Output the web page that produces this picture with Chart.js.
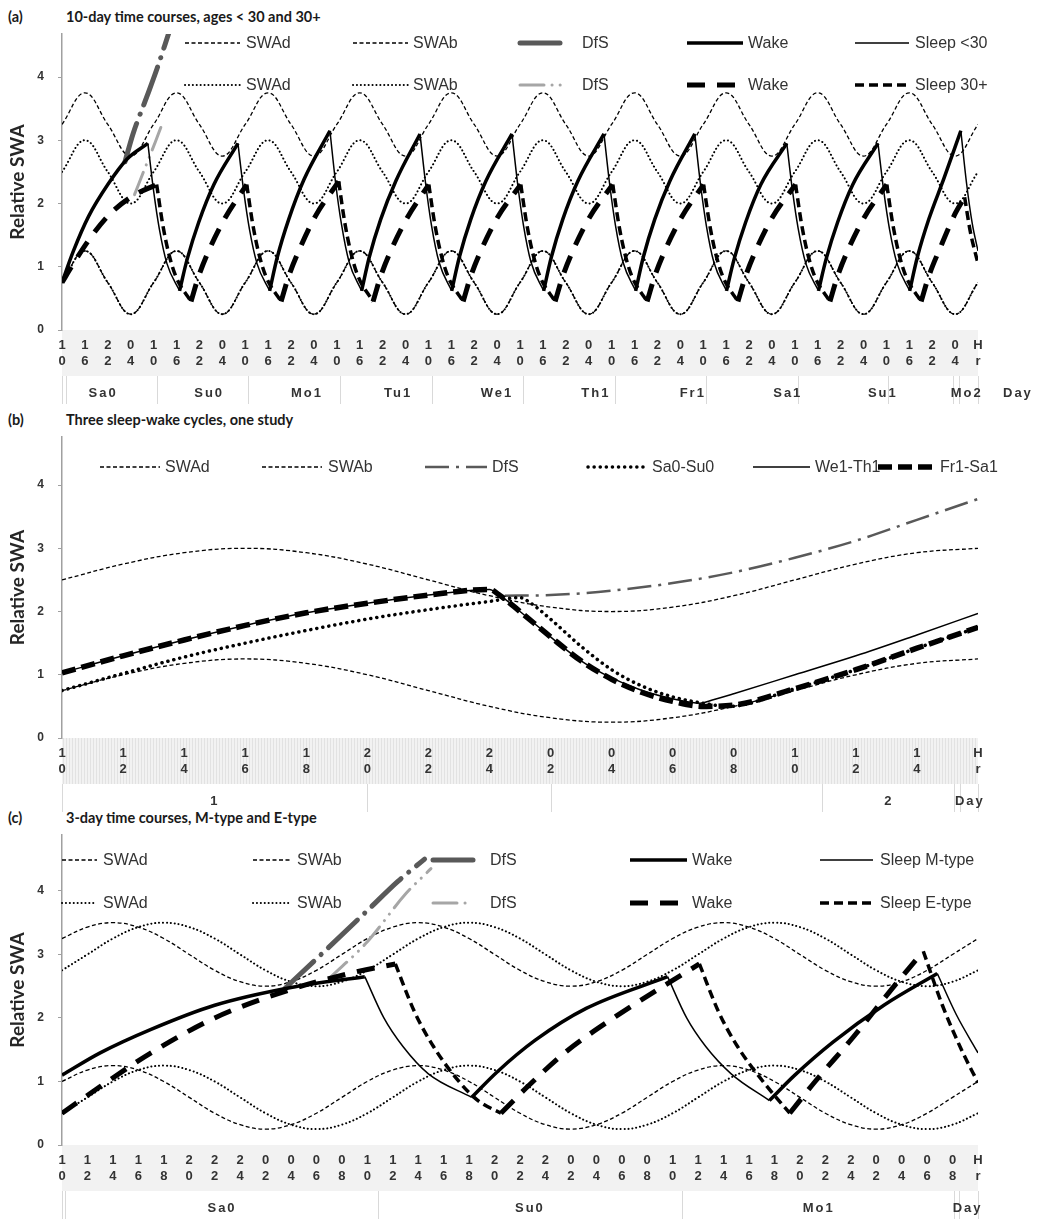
<!DOCTYPE html>
<html>
<head>
<meta charset="utf-8">
<script src="https://cdn.jsdelivr.net/npm/chart.js@4.4.1/dist/chart.umd.min.js"></script>
<style>
  body { margin: 0; background: #fff; width: 1046px; height: 1223px; position: relative; overflow: hidden; }
  canvas { position: absolute; left: 0; }
  .ttl { position: absolute; font-family: Lato, "Open Sans", sans-serif; font-weight: bold; font-size: 14.5px; color: #1a1a1a; white-space: nowrap; }
</style>
</head>
<body>
<div class="ttl" style="left:8px;top:8px">(a)</div>
<div class="ttl" style="left:66px;top:8px">10-day time courses, ages &lt; 30 and 30+</div>
<div class="ttl" style="left:8px;top:411px">(b)</div>
<div class="ttl" style="left:66px;top:411px">Three sleep-wake cycles, one study</div>
<div class="ttl" style="left:8px;top:809px">(c)</div>
<div class="ttl" style="left:66px;top:809px">3-day time courses, M-type and E-type</div>

<canvas id="chartA" width="1046" height="405" style="top:0px"></canvas>
<canvas id="chartB" width="1046" height="413" style="top:400px"></canvas>
<canvas id="chartC" width="1046" height="410" style="top:810px"></canvas>

<script>
// ---------- panel (a): 10 days, hours since Sa0 10:00 ----------
const aHours = [0,6,12,18,24,30,36,42,48,54,60,66,72,78,84,90,96,102,108,114,120,
  126,132,138,144,150,156,162,168,174,180,186,192,198,204,210,216,222,228,234,240];
const aHourLabels = ['10','16','22','04','10','16','22','04','10','16','22','04','10','16','22','04',
  '10','16','22','04','10','16','22','04','10','16','22','04','10','16','22','04',
  '10','16','22','04','10','16','22','04','Hr'];
const aDayNames = ['Sa0','Su0','Mo1','Tu1','We1','Th1','Fr1','Sa1','Su1','Mo2','Day'];
const aDayAt = [10.5, 38.3, 63.9, 87.8, 113.7, 139.6, 165.0, 189.9, 214.8, 236.8, 250.2];
const aDayLines = [0, 1, 24.9, 48.7, 72.8, 96.9, 120.8, 144.9, 168.7, 192.8, 216.4, 233.4, 235, 240];

const aSwaDYoung = [0.75,1.25,0.75,0.25, 0.75,1.25,0.75,0.25, 0.75,1.25,0.75,0.25, 0.75,1.25,0.75,0.25,
  0.75,1.25,0.75,0.25, 0.75,1.25,0.75,0.25, 0.75,1.25,0.75,0.25, 0.75,1.25,0.75,0.25,
  0.75,1.25,0.75,0.25, 0.75,1.25,0.75,0.25, 0.75];
const aSwaBYoung = [3.25,3.75,3.25,2.75, 3.25,3.75,3.25,2.75, 3.25,3.75,3.25,2.75, 3.25,3.75,3.25,2.75,
  3.25,3.75,3.25,2.75, 3.25,3.75,3.25,2.75, 3.25,3.75,3.25,2.75, 3.25,3.75,3.25,2.75,
  3.25,3.75,3.25,2.75, 3.25,3.75,3.25,2.75, 3.25];
const aSwaDOld = [0.75,1.25,0.75,0.25, 0.75,1.25,0.75,0.25, 0.75,1.25,0.75,0.25, 0.75,1.25,0.75,0.25,
  0.75,1.25,0.75,0.25, 0.75,1.25,0.75,0.25, 0.75,1.25,0.75,0.25, 0.75,1.25,0.75,0.25,
  0.75,1.25,0.75,0.25, 0.75,1.25,0.75,0.25, 0.75];
const aSwaBOld = [2.5,3.0,2.5,2.0, 2.5,3.0,2.5,2.0, 2.5,3.0,2.5,2.0, 2.5,3.0,2.5,2.0,
  2.5,3.0,2.5,2.0, 2.5,3.0,2.5,2.0, 2.5,3.0,2.5,2.0, 2.5,3.0,2.5,2.0,
  2.5,3.0,2.5,2.0, 2.5,3.0,2.5,2.0, 2.5];

// [hour, SWA]; a null value breaks the line
const aWakeYoung = [
  [0,0.75],[3,1.25],[7,1.8],[12,2.3],[17,2.7],[22.5,2.95],[26,null],
  [30.8,0.62],[32.8,1.12],[35.8,1.7],[39.8,2.3],[46.1,2.95],[50,null],
  [54.4,0.62],[56.4,1.15],[59.4,1.75],[63.4,2.38],[70.2,3.15],[74,null],
  [78.5,0.62],[80.5,1.15],[83.5,1.75],[87.5,2.36],[93.8,3.1],[98,null],
  [102.1,0.62],[104.1,1.15],[107.1,1.75],[111.1,2.36],[117.9,3.1],[122,null],
  [126.2,0.62],[128.2,1.15],[131.2,1.75],[135.2,2.36],[142,3.1],[146,null],
  [150.3,0.62],[152.3,1.15],[155.3,1.75],[159.3,2.36],[165.8,3.1],[170,null],
  [174.1,0.62],[176.1,1.12],[179.1,1.7],[183.1,2.3],[189.9,2.95],[194,null],
  [198.2,0.62],[200.2,1.12],[203.2,1.7],[207.2,2.3],[213.8,2.95],[218,null],
  [222.1,0.62],[224.1,1.15],[227.1,1.75],[231.1,2.4],[235.5,3.15]
];
const aSleepYoung = [
  [22.5,2.95],[24,2.2],[25.5,1.6],[27.5,1.05],[30.8,0.62],[38,null],
  [46.1,2.95],[47.6,2.2],[49.1,1.6],[51.1,1.05],[54.4,0.62],[62,null],
  [70.2,3.15],[71.7,2.32],[73.2,1.68],[75.2,1.08],[78.5,0.62],[86,null],
  [93.8,3.1],[95.3,2.3],[96.8,1.66],[98.8,1.07],[102.1,0.62],[110,null],
  [117.9,3.1],[119.4,2.3],[120.9,1.66],[122.9,1.07],[126.2,0.62],[134,null],
  [142,3.1],[143.5,2.3],[145,1.66],[147,1.07],[150.3,0.62],[158,null],
  [165.8,3.1],[167.3,2.3],[168.8,1.66],[170.8,1.07],[174.1,0.62],[182,null],
  [189.9,2.95],[191.4,2.2],[192.9,1.6],[194.9,1.05],[198.2,0.62],[206,null],
  [213.8,2.95],[215.3,2.2],[216.8,1.6],[218.8,1.05],[222.1,0.62],[230,null],
  [235.5,3.15],[237,2.32],[238.5,1.68],[240,1.25]
];
const aWakeOld = [
  [0,0.75],[3,1.05],[7,1.42],[12,1.8],[18,2.1],[24.8,2.3],[29,null],
  [33.8,0.45],[35.8,0.85],[38.8,1.3],[42.8,1.78],[48.4,2.3],[53,null],
  [57.4,0.45],[59.4,0.85],[62.4,1.3],[66.4,1.8],[72.5,2.35],[77,null],
  [81.5,0.45],[83.5,0.85],[86.5,1.3],[90.5,1.78],[96.1,2.3],[100,null],
  [105.1,0.45],[107.1,0.85],[110.1,1.3],[114.1,1.78],[120.2,2.3],[124,null],
  [129.2,0.45],[131.2,0.85],[134.2,1.3],[138.2,1.78],[144.3,2.3],[148,null],
  [153.3,0.45],[155.3,0.85],[158.3,1.3],[162.3,1.78],[168.1,2.3],[172,null],
  [177.1,0.45],[179.1,0.85],[182.1,1.3],[186.1,1.78],[192.2,2.3],[196,null],
  [201.2,0.45],[203.2,0.85],[206.2,1.3],[210.2,1.78],[216.1,2.3],[220,null],
  [225.1,0.45],[227.1,0.85],[230.1,1.3],[234.1,1.85],[236.5,2.1]
];
const aSleepOld = [
  [24.8,2.3],[26.3,1.7],[27.8,1.25],[29.8,0.85],[33.8,0.45],[40,null],
  [48.4,2.3],[49.9,1.7],[51.4,1.25],[53.4,0.85],[57.4,0.45],[64,null],
  [72.5,2.35],[74,1.73],[75.5,1.27],[77.5,0.86],[81.5,0.45],[88,null],
  [96.1,2.3],[97.6,1.7],[99.1,1.25],[101.1,0.85],[105.1,0.45],[112,null],
  [120.2,2.3],[121.7,1.7],[123.2,1.25],[125.2,0.85],[129.2,0.45],[136,null],
  [144.3,2.3],[145.8,1.7],[147.3,1.25],[149.3,0.85],[153.3,0.45],[160,null],
  [168.1,2.3],[169.6,1.7],[171.1,1.25],[173.1,0.85],[177.1,0.45],[184,null],
  [192.2,2.3],[193.7,1.7],[195.2,1.25],[197.2,0.85],[201.2,0.45],[208,null],
  [216.1,2.3],[217.6,1.7],[219.1,1.25],[221.1,0.85],[225.1,0.45],[230,null],
  [236.5,2.1],[238,1.55],[240,1.05]
];
const aDfsYoung = [[16.5,2.66],[18.6,3.1],[22.3,3.7],[25,4.15],[28,4.7]];
const aDfsOld = [[19,2.14],[22,2.6],[24.5,2.98],[26.5,3.3]];

// ---------- panel (b): 30 hours from 10:00 ----------
const bHours = [0,2,4,6,8,10,12,14,16,18,20,22,24,26,28,30];
const bHourLabels = ['10','12','14','16','18','20','22','24','02','04','06','08','10','12','14','Hr'];
const bDayNames = ['1','2','Day'];
const bDayAt = [4.97, 27.05, 29.7];
const bDayLines = [0, 10, 16, 24.9, 29.2, 29.4, 30];
const bSwaD = [0.75,1.0,1.18,1.25,1.18,1.0,0.75,0.5,0.32,0.25,0.32,0.5,0.75,1.0,1.18,1.25];
const bSwaB = [2.5,2.75,2.93,3.0,2.93,2.75,2.5,2.25,2.07,2.0,2.07,2.25,2.5,2.75,2.93,3.0];
const bDfs = [[14.5,2.25],[16,2.26],[18,2.33],[20,2.45],[22,2.62],[24,2.85],[26,3.12],[28,3.45],[30,3.78]];
const bSa0Su0 = [[0,0.75],[2,1.02],[4,1.28],[6,1.5],[8,1.7],[10,1.88],[12,2.03],[14,2.16],[15,2.22],
  [15.3,2.15],[16,1.88],[17,1.45],[18,1.08],[19,0.82],[20,0.65],[21,0.55],[21.8,0.5],
  [24,0.78],[26,1.08],[28,1.42],[30,1.75]];
const bWe1Th1 = [[0,1.03],[2,1.3],[4,1.55],[6,1.78],[8,1.98],[10,2.13],[12,2.26],[14,2.35],
  [14.3,2.27],[15,2.0],[16,1.6],[17,1.22],[18,0.95],[19,0.75],[20,0.62],[20.9,0.55],
  [21.3,0.6],[22,0.7],[24,1.0],[26,1.3],[28,1.63],[30,1.97]];
const bFr1Sa1 = [[0,1.03],[2,1.3],[4,1.55],[6,1.78],[8,1.98],[10,2.13],[12,2.26],[14,2.35],
  [14.3,2.27],[15,2.0],[16,1.6],[17,1.22],[18,0.93],[19,0.72],[20,0.58],[21,0.5],
  [22,0.52],[24,0.78],[26,1.08],[28,1.42],[30,1.75]];

// ---------- panel (c): 3 days from Sa0 10:00 ----------
const cHours = [0,2,4,6,8,10,12,14,16,18,20,22,24,26,28,30,32,34,36,38,40,42,44,46,
  48,50,52,54,56,58,60,62,64,66,68,70,72];
const cHourLabels = ['10','12','14','16','18','20','22','24','02','04','06','08',
  '10','12','14','16','18','20','22','24','02','04','06','08',
  '10','12','14','16','18','20','22','24','02','04','06','08','Hr'];
const cDayNames = ['Sa0','Su0','Mo1','Day'];
const cDayAt = [12.5, 36.7, 59.4, 71.1];
const cDayLines = [0, 0.24, 24.8, 48.7, 70.1, 70.5, 72];
const cSwaDM = [1.0,1.18,1.25,1.18,1.0,0.75,0.5,0.32,0.25,0.32,0.5,0.75,
  1.0,1.18,1.25,1.18,1.0,0.75,0.5,0.32,0.25,0.32,0.5,0.75,
  1.0,1.18,1.25,1.18,1.0,0.75,0.5,0.32,0.25,0.32,0.5,0.75, 1.0];
const cSwaBM = [3.25,3.43,3.5,3.43,3.25,3.0,2.75,2.57,2.5,2.57,2.75,3.0,
  3.25,3.43,3.5,3.43,3.25,3.0,2.75,2.57,2.5,2.57,2.75,3.0,
  3.25,3.43,3.5,3.43,3.25,3.0,2.75,2.57,2.5,2.57,2.75,3.0, 3.25];
const cSwaDE = [0.5,0.75,1.0,1.18,1.25,1.18,1.0,0.75,0.5,0.32,0.25,0.32,
  0.5,0.75,1.0,1.18,1.25,1.18,1.0,0.75,0.5,0.32,0.25,0.32,
  0.5,0.75,1.0,1.18,1.25,1.18,1.0,0.75,0.5,0.32,0.25,0.32, 0.5];
const cSwaBE = [2.75,3.0,3.25,3.43,3.5,3.43,3.25,3.0,2.75,2.57,2.5,2.57,
  2.75,3.0,3.25,3.43,3.5,3.43,3.25,3.0,2.75,2.57,2.5,2.57,
  2.75,3.0,3.25,3.43,3.5,3.43,3.25,3.0,2.75,2.57,2.5,2.57, 2.75];
const cWakeM = [
  [0,1.1],[3,1.45],[7,1.82],[12,2.2],[18,2.48],[23.8,2.65],[28,null],
  [32.2,0.75],[34.2,1.15],[37.2,1.65],[41.2,2.15],[47.6,2.65],[52,null],
  [55.6,0.7],[57.6,1.1],[60.6,1.62],[64.6,2.2],[68.8,2.7]
];
const cSleepM = [
  [23.8,2.65],[25.3,2.0],[26.8,1.55],[28.8,1.12],[32.2,0.75],[40,null],
  [47.6,2.65],[49.1,2.0],[50.6,1.55],[52.6,1.12],[55.6,0.7],[62,null],
  [68.8,2.7],[70.3,2.05],[72,1.45]
];
const cWakeE = [
  [0,0.5],[3,0.92],[7,1.45],[12,2.0],[18,2.45],[23,2.72],[26.2,2.85],[30,null],
  [34.5,0.5],[36.5,0.9],[39.5,1.45],[43.5,2.02],[50.1,2.85],[54,null],
  [57.2,0.5],[59.2,1.0],[62.2,1.7],[65.2,2.45],[67.7,3.05]
];
const cSleepE = [
  [26.2,2.85],[27.7,2.1],[29.2,1.55],[31.2,1.0],[32.7,0.7],[34.5,0.5],[42,null],
  [50.1,2.85],[51.6,2.1],[53.1,1.55],[55.1,1.0],[57.2,0.5],[62,null],
  [67.7,3.05],[69.2,2.2],[70.7,1.5],[72,0.98]
];
const cDfsM = [[17.5,2.46],[20,2.93],[24,3.69],[26.4,4.15],[28.5,4.5]];
const cDfsE = [[21,2.62],[24,3.2],[27,3.95],[29,4.35]];

// ---------- helpers ----------
const FONT = '"Liberation Sans", Arial, sans-serif';
const pts = arr => arr.map(p => ({ x: p[0], y: p[1] }));
const zip = (xs, ys) => xs.map((x, i) => ({ x: x, y: ys[i] }));

function curve(label, data, style) {
  return Object.assign({
    label: label, data: data, borderColor: '#000', borderWidth: 1.5,
    pointRadius: 0, fill: false, spanGaps: false, cubicInterpolationMode: 'monotone'
  }, style);
}
function wave(label, data, style) {
  return Object.assign(curve(label, data, style), { cubicInterpolationMode: 'default', tension: 0.4 });
}

const DASHED = { borderWidth: 1.3, borderDash: [4, 2.5] };
const DOTTED = { borderWidth: 2, borderDash: [0.1, 3.8], borderCapStyle: 'round' };

const legendPlugin = {
  id: 'swaLegend',
  afterDatasetsDraw(chart, args, opts) {
    const ctx = chart.ctx;
    ctx.save();
    ctx.font = '16px ' + FONT;
    ctx.fillStyle = '#333';
    ctx.textBaseline = 'middle';
    opts.items.forEach(it => {
      const ds = chart.data.datasets[it[0]];
      ctx.strokeStyle = ds.borderColor;
      ctx.lineWidth = ds.borderWidth;
      ctx.lineCap = ds.borderCapStyle || 'butt';
      ctx.setLineDash(ds.borderDash || []);
      ctx.beginPath();
      ctx.moveTo(it[1], it[4]);
      ctx.lineTo(it[2], it[4]);
      ctx.stroke();
      ctx.fillText(ds.label, it[3], it[4] + 1);
    });
    ctx.restore();
  }
};

const bandPlugin = {
  id: 'hourBand',
  beforeDraw(chart, args, opts) {
    const { ctx, chartArea } = chart;
    ctx.save();
    ctx.fillStyle = '#f2f2f2';
    ctx.fillRect(chartArea.left, chartArea.bottom, chartArea.right - chartArea.left, 46);
    if (opts.hatch) {
      ctx.strokeStyle = '#e2e2e2';
      ctx.lineWidth = 1;
      ctx.beginPath();
      for (let x = chartArea.left + 1.5; x < chartArea.right; x += 3) {
        ctx.moveTo(x, chartArea.bottom);
        ctx.lineTo(x, chartArea.bottom + 46);
      }
      ctx.stroke();
    }
    ctx.restore();
  },
  afterDraw(chart, args, opts) {
    const { ctx, chartArea } = chart;
    const x = chart.scales.x;
    const top = chartArea.bottom + 46;
    ctx.save();
    ctx.strokeStyle = '#d9d9d9';
    ctx.lineWidth = 1;
    opts.lines.forEach(h => {
      const px = Math.round(x.getPixelForValue(h)) + 0.5;
      ctx.beginPath();
      ctx.moveTo(px, top);
      ctx.lineTo(px, top + 28);
      ctx.stroke();
    });
    ctx.font = 'bold 13px ' + FONT;
    ctx.letterSpacing = '2px';
    ctx.fillStyle = '#333';
    ctx.textAlign = 'center';
    ctx.textBaseline = 'middle';
    opts.names.forEach((n, i) => ctx.fillText(n, x.getPixelForValue(opts.at[i]) + 1, top + 17));
    ctx.restore();
  }
};

function makeChart(id, datasets, cfg) {
  return new Chart(document.getElementById(id), {
    type: 'line',
    data: { datasets: datasets },
    plugins: [bandPlugin, legendPlugin],
    options: {
      responsive: false,
      animation: false,
      events: [],
      layout: { padding: { top: cfg.padTop, right: 68, bottom: 0, left: 0 } },
      plugins: {
        legend: { display: false },
        tooltip: { enabled: false },
        swaLegend: { items: cfg.legend },
        hourBand: { hatch: cfg.hatch, lines: cfg.dayLines, names: cfg.dayNames, at: cfg.dayAt }
      },
      scales: {
        x: {
          type: 'linear', min: 0, max: cfg.xMax,
          afterBuildTicks: s => { s.ticks = cfg.ticks.map(v => ({ value: v })); },
          afterFit: s => { s.height = 75; },
          grid: { display: false, drawTicks: false },
          border: { display: false },
          ticks: {
            autoSkip: false, maxRotation: 0, minRotation: 0, padding: 7, color: '#333',
            font: { family: FONT, size: 13, weight: 'bold', lineHeight: 1.25 },
            callback: (v, i) => cfg.tickLabels[i].split('')
          }
        },
        y: {
          min: 0, max: cfg.yMax,
          afterBuildTicks: s => { s.ticks = [0, 1, 2, 3, 4].map(v => ({ value: v })); },
          afterFit: s => { s.width = 62; },
          grid: { drawOnChartArea: false, drawTicks: true, tickLength: 4, color: '#a0a0a0' },
          border: { color: '#a0a0a0', width: 1.5 },
          ticks: { padding: 14, color: '#333', font: { family: FONT, size: 12, weight: 'bold' } },
          title: {
            display: true, text: 'Relative SWA', color: '#262626',
            font: { family: 'Lato, "Open Sans", sans-serif', size: 19, weight: 'bold' },
            padding: { top: 6, bottom: 0 }
          }
        }
      }
    }
  });
}

// panel (a)
makeChart('chartA', [
  curve('Wake', pts(aWakeYoung), { borderWidth: 3.5 }),
  curve('Sleep <30', pts(aSleepYoung), { borderWidth: 1.5 }),
  curve('Wake', pts(aWakeOld), { borderWidth: 5, borderDash: [18, 12] }),
  curve('Sleep 30+', pts(aSleepOld), { borderWidth: 3.5, borderDash: [9, 5] }),
  curve('DfS', pts(aDfsYoung), { borderColor: '#595959', borderWidth: 5, borderDash: [40, 10, 0.1, 10], borderCapStyle: 'round' }),
  curve('DfS', pts(aDfsOld), { borderColor: '#a6a6a6', borderWidth: 3, borderDash: [24, 8, 0.1, 8, 0.1, 8], borderCapStyle: 'round' }),
  wave('SWAd', zip(aHours, aSwaDYoung), DASHED),
  wave('SWAb', zip(aHours, aSwaBYoung), DASHED),
  wave('SWAd', zip(aHours, aSwaDOld), DOTTED),
  wave('SWAb', zip(aHours, aSwaBOld), DOTTED)
], {
  padTop: 34, yMax: 4.68, xMax: 240, ticks: aHours, tickLabels: aHourLabels,
  dayLines: aDayLines, dayNames: aDayNames, dayAt: aDayAt, hatch: false,
  legend: [
    [6, 185, 240, 246, 43], [7, 353, 408, 413, 43], [4, 520, 562, 582, 43], [0, 687, 743, 748, 43], [1, 855, 909, 915, 43],
    [8, 185, 240, 246, 85], [9, 353, 408, 413, 85], [5, 520, 562, 582, 85], [2, 687, 743, 748, 85], [3, 855, 909, 915, 85]
  ]
});

// panel (b)
makeChart('chartB', [
  curve('Fr1-Sa1', pts(bFr1Sa1), { borderWidth: 5.5, borderDash: [14, 6] }),
  curve('We1-Th1', pts(bWe1Th1), { borderWidth: 1.5 }),
  curve('Sa0-Su0', pts(bSa0Su0), { borderWidth: 3.5, borderDash: [0.1, 6], borderCapStyle: 'round' }),
  curve('DfS', pts(bDfs), { borderColor: '#595959', borderWidth: 2.5, borderDash: [24, 7, 3, 7] }),
  wave('SWAd', zip(bHours, bSwaD), DASHED),
  wave('SWAb', zip(bHours, bSwaB), DASHED)
], {
  padTop: 37, yMax: 4.76, xMax: 30, ticks: bHours, tickLabels: bHourLabels,
  dayLines: bDayLines, dayNames: bDayNames, dayAt: bDayAt, hatch: true,
  legend: [
    [4, 100, 160, 165, 67], [5, 262, 322, 328, 67], [3, 425, 487, 492, 67],
    [2, 588, 647, 652, 67], [1, 753, 810, 815, 67], [0, 878, 935, 940, 67]
  ]
});

// panel (c)
makeChart('chartC', [
  curve('Wake', pts(cWakeM), { borderWidth: 3.5 }),
  curve('Sleep M-type', pts(cSleepM), { borderWidth: 1.5 }),
  curve('Wake', pts(cWakeE), { borderWidth: 5, borderDash: [18, 12] }),
  curve('Sleep E-type', pts(cSleepE), { borderWidth: 3.5, borderDash: [9, 5] }),
  curve('DfS', pts(cDfsM), { borderColor: '#595959', borderWidth: 5, borderDash: [40, 10, 0.1, 10], borderCapStyle: 'round' }),
  curve('DfS', pts(cDfsE), { borderColor: '#a6a6a6', borderWidth: 3, borderDash: [24, 8, 0.1, 8, 0.1, 8], borderCapStyle: 'round' }),
  wave('SWAd', zip(cHours, cSwaDM), DASHED),
  wave('SWAb', zip(cHours, cSwaBM), DASHED),
  wave('SWAd', zip(cHours, cSwaDE), DOTTED),
  wave('SWAb', zip(cHours, cSwaBE), DOTTED)
], {
  padTop: 25, yMax: 4.88, xMax: 72, ticks: cHours, tickLabels: cHourLabels,
  dayLines: cDayLines, dayNames: cDayNames, dayAt: cDayAt, hatch: false,
  legend: [
    [6, 62, 97, 103, 50], [7, 253, 290, 297, 50], [4, 433, 473, 490, 50], [0, 630, 687, 692, 50], [1, 820, 873, 880, 50],
    [8, 62, 97, 103, 93], [9, 253, 290, 297, 93], [5, 433, 473, 490, 93], [2, 630, 687, 692, 93], [3, 820, 873, 880, 93]
  ]
});
</script>
</body>
</html>
